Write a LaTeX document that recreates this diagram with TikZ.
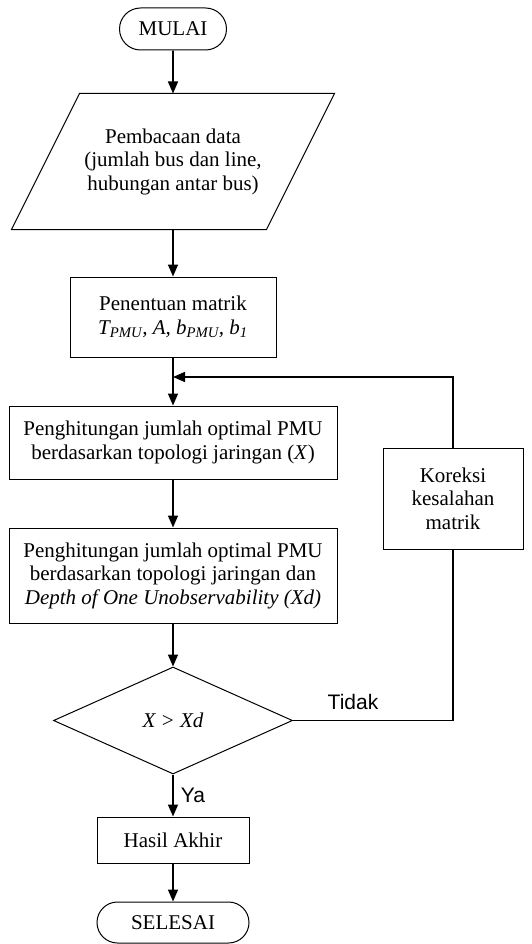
\documentclass[tikz,border=0pt]{standalone}
\usepackage{fontspec}
\setmainfont{Liberation Serif}
\setsansfont{Liberation Sans}
\usetikzlibrary{shapes.geometric,shapes.misc,arrows.meta}
\tikzset{
  proses/.style={draw,line width=1pt,inner sep=0pt,align=center,font=\fontsize{21}{23.5}\selectfont},
  terminal/.style={proses,rounded rectangle},
  keputusan/.style={proses,diamond},
  label/.style={font=\sffamily\fontsize{21}{23.5}\selectfont,inner sep=0pt},
  alur/.style={line width=1.6pt,-{Triangle[length=12pt,width=10pt]}},
}
\begin{document}
\begin{tikzpicture}[x=1pt,y=-1pt]
\useasboundingbox (0,0) rectangle (531,944);
\node[terminal,minimum width=107pt,minimum height=42pt] (mulai) at (173,29) {MULAI};
\node[proses,draw=none,minimum width=254pt,minimum height=135pt] (data) at (173,161.5)
 {Pembacaan data\\(jumlah bus dan line,\\hubungan antar bus)};
\path[draw,line width=1pt] ([xshift=34pt]data.north west) -- ([xshift=34pt]data.north east)
 -- ([xshift=-34pt]data.south east) -- ([xshift=-34pt]data.south west) -- cycle;
\node[proses,minimum width=206pt,minimum height=80pt] (matrik) at (173,317)
 {Penentuan matrik\\\textit{T\textsubscript{PMU}, A, b\textsubscript{PMU}, b\textsubscript{1}}};
\coordinate (gabung) at (173,377);
\node[proses,minimum width=328pt,minimum height=73pt] (topologi) at (173,442.5)
 {Penghitungan jumlah optimal PMU\\berdasarkan topologi jaringan (\textit{X})};
\node[proses,minimum width=328pt,minimum height=95pt] (depth) at (173,575.5)
 {Penghitungan jumlah optimal PMU\\berdasarkan topologi jaringan dan\\\textit{Depth of One Unobservability (Xd)}};
\node[keputusan,minimum width=239pt,minimum height=107pt] (cek) at (173,720.5) {\textit{X > Xd}};
\node[proses,minimum width=140pt,minimum height=101pt] (koreksi) at (453,498.5) {Koreksi\\kesalahan\\matrik};
\node[proses,minimum width=152pt,minimum height=46pt] (hasil) at (173,840) {Hasil Akhir};
\node[terminal,minimum width=152pt,minimum height=41pt] (selesai) at (173,922.5) {SELESAI};
\node[label] (tidak) at (353,702) {Tidak};
\node[label] (ya) at (193,795) {Ya};

\draw[alur] (mulai) -- (data);
\draw[alur] (data) -- (matrik);
\draw[alur] (matrik) -- (topologi);
\draw[alur] (topologi) -- (depth);
\draw[alur] (depth) -- (cek);
\draw[alur] (cek) -- (hasil);
\draw[alur] (hasil) -- (selesai);
\draw[line width=1.6pt] (cek.east) -| (koreksi.south);
\draw[alur] (koreksi.north) |- (gabung);
\end{tikzpicture}
\end{document}
